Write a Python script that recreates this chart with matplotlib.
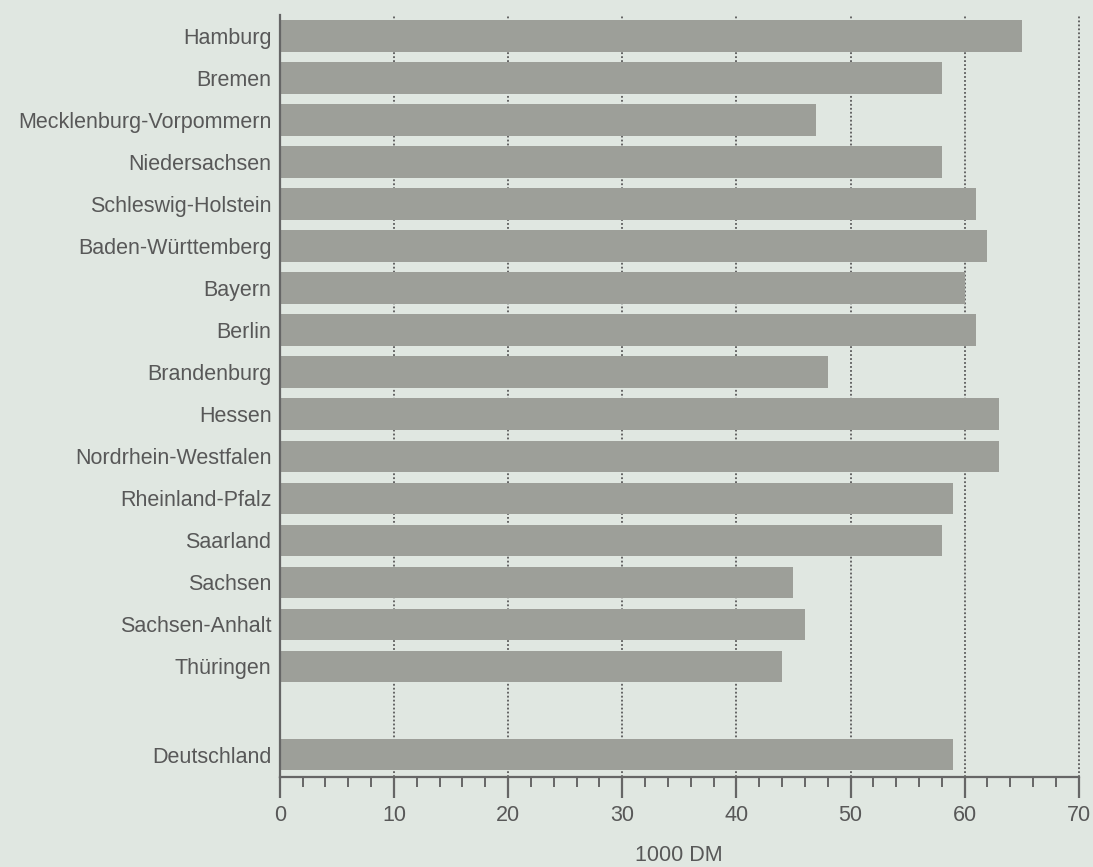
import numpy as np
import matplotlib.pyplot as plt
from matplotlib.ticker import MultipleLocator
from matplotlib import font_manager

# data
laender = ['Hamburg', 'Bremen', 'Mecklenburg-Vorpommern', 'Niedersachsen',
           'Schleswig-Holstein', 'Baden-Württemberg', 'Bayern', 'Berlin',
           'Brandenburg', 'Hessen', 'Nordrhein-Westfalen', 'Rheinland-Pfalz',
           'Saarland', 'Sachsen', 'Sachsen-Anhalt', 'Thüringen', 'Deutschland']
werte = [65, 58, 47, 58, 61, 62, 60, 61, 48, 63, 63, 59, 58, 45, 46, 44, 59]
xticks = [0, 10, 20, 30, 40, 50, 60, 70]
xlabel = '1000 DM'

names = {f.name for f in font_manager.fontManager.ttflist}
fam = 'Liberation Sans Narrow' if 'Liberation Sans Narrow' in names else 'Liberation Sans'
plt.rcParams['font.family'] = [fam, 'DejaVu Sans']

bg = '#e0e7e1'
bar_col = '#9d9f99'
txt = '#585858'
axc = '#666666'

# positions: gap before Deutschland
pos = list(range(16)) + [17.1]

fig = plt.figure(figsize=(10.93, 8.67), dpi=100, facecolor=bg)
ax = fig.add_axes([0.256, 0.1038, 0.731, 0.879])
ax.set_facecolor(bg)

ax.barh(pos, werte, height=0.75, color=bar_col, zorder=2)

ax.set_xlim(0, 70)
ax.set_ylim(17.63, -0.5)
ax.set_yticks(pos)
ax.set_yticklabels(laender)
ax.set_xticks(xticks)
ax.xaxis.set_minor_locator(MultipleLocator(2))

for x in xticks[1:]:
    ax.axvline(x, color='#5a5a5a', linestyle=(0, (1, 1.2)), linewidth=1.3,
               zorder=1, clip_on=False)

for s in ['top', 'right']:
    ax.spines[s].set_visible(False)
for s in ['left', 'bottom']:
    ax.spines[s].set_color(axc)
    ax.spines[s].set_linewidth(1.6)

ax.tick_params(axis='y', length=0, pad=6, labelsize=15.5, labelcolor=txt)
ax.tick_params(axis='x', which='major', length=15, width=1.6, color=axc,
               labelsize=15.5, labelcolor=txt, pad=5)
ax.tick_params(axis='x', which='minor', length=7, width=1.4, color=axc)
ax.set_xlabel(xlabel, fontsize=15.5, color=txt, labelpad=14)

fig.savefig('out.png', dpi=100, facecolor=bg)
